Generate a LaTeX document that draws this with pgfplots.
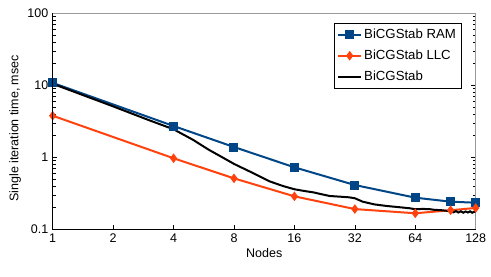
\documentclass[border=0pt]{standalone}
\usepackage{fontspec}
\setmainfont{Liberation Sans}
\usepackage{pgfplots}
\pgfplotsset{compat=1.18}
\definecolor{ramblue}{HTML}{004586}
\definecolor{llcorange}{HTML}{FF420E}
\begin{document}
\fontsize{12.5bp}{15bp}\selectfont
\begin{tikzpicture}
\begin{axis}[
  scale only axis,
  width=423bp, height=216bp,
  xmode=log, log basis x=2,
  ymode=log,
  xmin=1, xmax=128, ymin=0.1, ymax=100,
  xtick={1,2,4,8,16,32,64,128},
  xticklabels={1,2,4,8,16,32,64,128},
  ytick={0.1,1,10,100},
  yticklabels={0.1,1,10,100},
  minor tick num=0,
  minor xtick={}, minor ytick={},
  xtick pos=lower, ytick pos=both,
  tick align=inside,
  major tick length=4.5bp,
  every tick/.style={black, line width=0.6bp},
  axis line style={gray!80, line width=0.8bp},
  xlabel={Nodes}, ylabel={Single iteration time, msec},
  xlabel style={yshift=3bp},
  ylabel style={at={(ticklabel cs:0.467)}, yshift=-2bp},
  /pgf/number format/assume math mode=true,
  legend style={at={(axis description cs:1,1)}, anchor=north east,
    xshift=-14.5bp, yshift=-10bp, draw=black, line width=0.6bp,
    font=\fontsize{13.2bp}{15bp}\selectfont,
    row sep=5.5bp, inner xsep=3bp, inner ysep=3.5bp},
  legend cell align=left,
  legend image code/.code={\draw[mark repeat=2,mark phase=2] plot coordinates {(0bp,0bp) (11.5bp,0bp) (23bp,0bp)};},
]
\addplot[color=ramblue, line width=2bp, mark=square*, mark size=3.5bp, mark options={solid}]
coordinates {(1,10.8) (4,2.72) (8,1.39) (16,0.726) (32,0.412) (64,0.275) (96,0.242) (128,0.234)};
\addlegendentry{BiCGStab RAM}
\addplot[color=llcorange, line width=2bp, mark=diamond*, mark size=3.2bp]
coordinates {(1,3.78) (4,0.97) (8,0.51) (16,0.287) (32,0.191) (64,0.167) (96,0.184) (128,0.198)};
\addlegendentry{BiCGStab LLC}
\addplot[color=black, line width=2bp]
coordinates {(1,10.5) (2,5.1) (3,3.3) (4,2.45) (5,1.75) (6,1.27) (7,1.0) (8,0.81) (10,0.6) (12,0.465) (14,0.4) (16,0.36)
(18,0.34) (20,0.325) (21.5,0.31) (24,0.29) (27,0.284) (30,0.278) (32,0.27) (35,0.242) (40,0.222) (46,0.211) (54,0.202)
(60,0.196) (64,0.19) (70,0.192) (76,0.19) (80,0.186) (85,0.185) (90,0.182) (96,0.178) (99,0.172) (102,0.179) (105,0.171)
(108,0.178) (111,0.17) (114,0.177) (117,0.171) (120,0.178) (123,0.17) (126,0.176) (128,0.174)};
\addlegendentry{BiCGStab}
\end{axis}
\draw[black, line width=0.8bp] (current axis.north west) -- (current axis.south west) -- (current axis.south east);
\pgfresetboundingbox
\path[use as bounding box] ([xshift=-52.7bp,yshift=-46.7bp]current axis.south west) rectangle ([xshift=15.3bp,yshift=13.3bp]current axis.north east);
\end{tikzpicture}
\end{document}
